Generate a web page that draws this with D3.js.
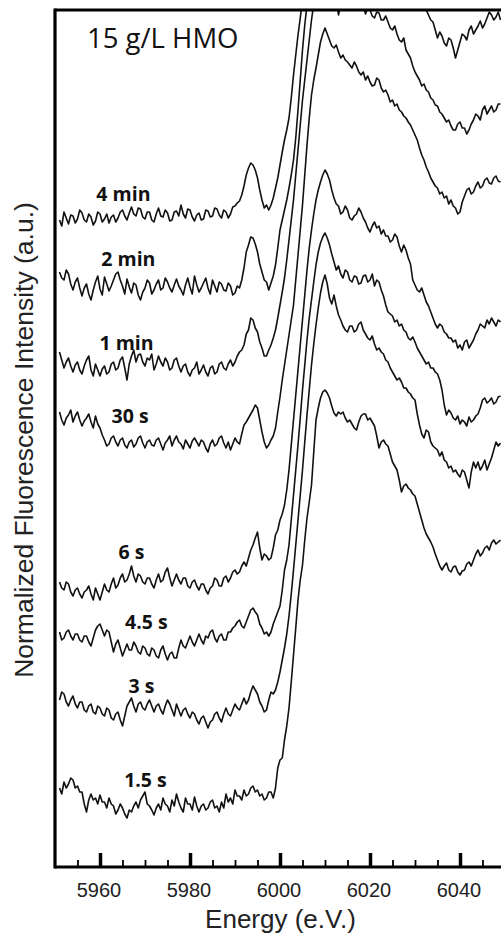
<!DOCTYPE html>
<html>
<head>
<meta charset="utf-8">
<script src="https://cdn.jsdelivr.net/npm/d3@7"></script>
<style>
  html, body { margin: 0; padding: 0; background: #fff; }
  svg { display: block; }
</style>
</head>
<body>
<svg id="chart" width="501" height="941"></svg>
<script>
// ---------------- DATA ----------------
// Energy grid (eV), 0.5 eV steps
const energy = d3.range(5951, 6049.5, 0.5);

const seriesNames = ["4 min", "2 min", "1 min", "30 s", "6 s", "4.5 s", "3 s", "1.5 s"];

// Normalized fluorescence intensity (a.u., stacked with offsets)
const s4min = [
  7.80,7.74,7.88,7.82,7.76,7.85,7.84,7.77,7.81,7.90,7.87,7.80,7.78,7.86,7.83,7.75,7.79,7.88,7.86,7.78,
  7.81,7.86,7.77,7.83,7.85,7.78,7.82,7.88,7.90,7.84,7.80,7.87,7.93,7.86,7.84,7.92,7.91,7.83,7.81,7.88,
  7.88,7.80,7.78,7.86,7.92,7.84,7.83,7.90,7.87,7.79,7.80,7.88,7.89,7.84,7.95,7.86,7.82,7.91,7.90,7.83,
  7.79,7.85,7.87,7.80,7.81,7.90,7.89,7.83,7.84,7.92,7.91,7.85,7.82,7.90,7.88,7.82,7.86,7.93,7.94,7.97,
  7.99,8.05,8.14,8.25,8.32,8.37,8.35,8.30,8.22,8.10,8.00,7.92,7.95,7.90,7.95,8.02,8.12,8.22,8.35,8.48,
  8.60,8.70,8.82,9.02,9.25,9.45,9.65,9.82,10.00,10.20,10.40,10.60,10.80,10.95,11.10,11.20,11.30,11.36,11.40,11.38,
  11.35,11.30,11.25,11.22,11.20,11.19,11.18,11.15,11.12,11.11,11.10,11.08,11.05,11.02,11.00,10.99,10.98,10.96,10.95,10.93,
  10.92,10.91,10.90,10.89,10.88,10.86,10.85,10.83,10.82,10.81,10.80,10.78,10.75,10.72,10.70,10.68,10.65,10.62,10.60,10.58,
  10.55,10.52,10.50,10.48,10.45,10.42,10.40,10.38,10.35,10.32,10.30,10.27,10.25,10.24,10.22,10.20,10.18,10.16,10.20,10.24,
  10.28,10.31,10.35,10.33,10.32,10.36,10.40,10.39,10.38,10.42,10.45,10.48,10.50,10.49,10.48,10.50,10.52
];
const s2min = [
  7.28,7.22,7.20,7.30,7.26,7.16,7.10,7.18,7.22,7.12,7.04,7.12,7.16,7.06,7.00,7.10,7.18,7.24,7.11,7.05,
  7.23,7.16,7.09,7.14,7.20,7.26,7.28,7.20,7.14,7.06,7.21,7.13,7.07,7.17,7.15,7.05,7.00,7.08,7.12,7.20,
  7.17,7.06,7.10,7.16,7.20,7.10,7.12,7.22,7.18,7.12,7.08,7.15,7.21,7.14,7.10,7.05,7.15,7.22,7.13,7.06,
  7.24,7.15,7.08,7.12,7.17,7.22,7.12,7.06,7.20,7.14,7.08,7.18,7.16,7.10,7.09,7.17,7.14,7.05,7.07,7.14,
  7.12,7.20,7.32,7.48,7.55,7.63,7.62,7.56,7.48,7.36,7.28,7.20,7.18,7.10,7.17,7.24,7.35,7.52,7.70,7.80,
  7.90,8.00,8.12,8.25,8.40,8.62,8.90,9.20,9.50,9.75,9.95,10.15,10.30,10.45,10.55,10.64,10.70,10.74,10.75,10.73,
  10.70,10.66,10.60,10.58,10.55,10.52,10.50,10.49,10.48,10.46,10.45,10.43,10.42,10.41,10.40,10.39,10.38,10.36,10.35,10.33,
  10.32,10.31,10.30,10.29,10.28,10.26,10.25,10.23,10.22,10.21,10.20,10.18,10.15,10.12,10.10,10.08,10.05,10.02,10.00,9.99,
  9.98,9.97,9.95,9.90,9.85,9.80,9.78,9.70,9.62,9.68,9.64,9.57,9.54,9.62,9.60,9.52,9.42,9.50,9.58,9.66,
  9.64,9.60,9.70,9.74,9.66,9.70,9.74,9.79,9.72,9.76,9.82,9.88,9.85,9.80,9.83,9.88,9.80
];
const s1min = [
  6.48,6.40,6.32,6.38,6.42,6.34,6.28,6.35,6.38,6.30,6.26,6.34,6.40,6.44,6.30,6.24,6.36,6.30,6.24,6.31,
  6.34,6.26,6.28,6.36,6.38,6.30,6.32,6.40,6.43,6.32,6.20,6.36,6.44,6.50,6.38,6.45,6.46,6.38,6.34,6.42,
  6.40,6.46,6.30,6.36,6.44,6.38,6.34,6.42,6.38,6.30,6.32,6.40,6.42,6.34,6.28,6.34,6.36,6.28,6.24,6.30,
  6.32,6.38,6.26,6.30,6.35,6.28,6.24,6.32,6.34,6.26,6.28,6.36,6.38,6.32,6.30,6.36,6.40,6.34,6.38,6.44,
  6.48,6.50,6.55,6.66,6.70,6.82,6.80,6.72,6.68,6.58,6.52,6.44,6.44,6.50,6.55,6.62,6.70,6.82,6.95,7.08,
  7.22,7.40,7.60,7.80,8.00,8.25,8.50,8.75,9.00,9.20,9.40,9.60,9.80,9.96,10.10,10.24,10.35,10.42,10.47,10.45,
  10.40,10.30,10.20,10.00,9.85,9.96,10.02,10.06,10.08,10.05,10.10,10.03,10.05,9.98,9.92,9.95,9.86,9.92,9.90,9.84,
  9.82,9.88,9.87,9.80,9.80,9.84,9.78,9.72,9.70,9.74,9.66,9.60,9.58,9.62,9.50,9.46,9.42,9.34,9.28,9.24,
  9.20,9.14,9.16,9.10,9.08,9.02,9.00,8.95,8.94,8.88,8.86,8.82,8.78,8.80,8.74,8.70,8.70,8.76,8.78,8.72,
  8.72,8.66,8.70,8.76,8.80,8.86,8.84,8.80,8.90,8.94,8.86,8.90,8.94,8.88,8.90,8.96,8.96
];
const s30s = [
  5.88,5.80,5.75,5.82,5.85,5.90,5.78,5.84,5.88,5.80,5.74,5.79,5.82,5.86,5.78,5.72,5.84,5.76,5.72,5.65,
  5.60,5.54,5.56,5.62,5.64,5.58,5.54,5.60,5.62,5.55,5.52,5.58,5.60,5.53,5.56,5.62,5.64,5.57,5.52,5.58,
  5.60,5.55,5.54,5.60,5.62,5.56,5.50,5.57,5.60,5.64,5.54,5.60,5.64,5.58,5.56,5.51,5.60,5.56,5.52,5.59,
  5.62,5.58,5.54,5.60,5.58,5.52,5.48,5.56,5.60,5.54,5.56,5.62,5.64,5.57,5.52,5.58,5.50,5.56,5.62,5.58,
  5.56,5.66,5.75,5.78,5.82,5.86,5.90,5.95,5.92,5.80,5.68,5.58,5.52,5.55,5.60,5.64,5.72,5.88,6.03,6.20,
  6.35,6.50,6.65,6.80,6.95,7.20,7.45,7.70,7.95,8.25,8.55,8.82,9.05,9.20,9.32,9.45,9.58,9.66,9.72,9.66,
  9.60,9.54,9.52,9.55,9.48,9.42,9.45,9.40,9.38,9.35,9.32,9.38,9.34,9.28,9.25,9.28,9.20,9.24,9.18,9.14,
  9.15,9.22,9.20,9.12,9.08,9.10,9.05,8.98,9.00,8.94,8.96,8.90,8.88,8.84,8.82,8.78,8.75,8.70,8.65,8.60,
  8.52,8.45,8.40,8.33,8.28,8.22,8.18,8.14,8.12,8.06,8.08,8.02,8.04,7.96,8.00,7.94,7.92,7.86,7.88,7.98,
  8.04,8.10,8.12,8.06,8.08,8.14,8.18,8.12,8.14,8.20,8.22,8.17,8.16,8.22,8.24,8.19,8.18
];
const s6s = [
  4.18,4.12,4.10,4.18,4.16,4.08,4.04,4.10,4.12,4.06,4.02,4.08,4.10,4.14,4.06,4.00,4.12,4.06,4.00,4.08,
  4.16,4.10,4.08,4.16,4.22,4.12,4.15,4.22,4.26,4.18,4.20,4.26,4.34,4.24,4.18,4.26,4.24,4.18,4.16,4.22,
  4.22,4.16,4.12,4.20,4.26,4.18,4.20,4.28,4.32,4.22,4.14,4.20,4.26,4.20,4.16,4.22,4.22,4.14,4.12,4.18,
  4.20,4.14,4.10,4.16,4.16,4.10,4.06,4.12,4.14,4.22,4.20,4.14,4.14,4.22,4.24,4.18,4.22,4.28,4.30,4.26,
  4.28,4.34,4.38,4.34,4.42,4.50,4.55,4.62,4.68,4.52,4.40,4.46,4.44,4.40,4.42,4.52,4.65,4.70,4.80,4.86,
  4.95,5.10,5.30,5.55,5.80,6.05,6.30,6.55,6.80,7.05,7.30,7.52,7.70,7.86,8.00,8.10,8.18,8.25,8.30,8.26,
  8.20,8.10,8.02,7.96,7.94,7.86,7.88,7.94,7.90,7.82,7.80,7.84,7.86,7.92,7.88,7.82,7.78,7.72,7.68,7.74,
  7.78,7.72,7.74,7.66,7.70,7.64,7.64,7.58,7.60,7.66,7.63,7.54,7.48,7.55,7.50,7.42,7.36,7.20,7.15,7.10,
  7.08,7.12,7.05,6.98,6.94,6.88,6.82,6.76,6.72,6.76,6.74,6.68,6.66,6.62,6.62,6.58,6.60,6.52,6.55,6.50,
  6.58,6.60,6.52,6.56,6.60,6.66,6.70,6.76,6.74,6.72,6.80,6.76,6.82,6.78,6.74,6.80,6.78
];
const s45s = [
  3.68,3.60,3.62,3.68,3.70,3.64,3.60,3.66,3.66,3.60,3.58,3.64,3.64,3.58,3.54,3.62,3.70,3.74,3.76,3.70,
  3.64,3.70,3.68,3.58,3.48,3.56,3.60,3.52,3.44,3.50,3.56,3.50,3.50,3.58,3.54,3.48,3.46,3.54,3.52,3.46,
  3.44,3.52,3.50,3.44,3.42,3.50,3.54,3.46,3.40,3.46,3.48,3.42,3.42,3.52,3.60,3.54,3.52,3.58,3.64,3.58,
  3.54,3.60,3.66,3.60,3.56,3.64,3.62,3.68,3.70,3.62,3.58,3.64,3.66,3.60,3.60,3.68,3.68,3.72,3.74,3.78,
  3.80,3.74,3.72,3.78,3.84,3.90,3.92,3.88,3.85,3.76,3.72,3.66,3.68,3.64,3.68,3.76,3.82,3.88,3.94,4.10,
  4.30,4.40,4.55,4.80,5.05,5.30,5.55,5.82,6.10,6.35,6.60,6.82,7.00,7.18,7.35,7.48,7.57,7.63,7.67,7.62,
  7.55,7.46,7.38,7.30,7.34,7.26,7.22,7.30,7.28,7.20,7.18,7.24,7.23,7.16,7.17,7.24,7.25,7.18,7.20,7.26,
  7.14,7.20,7.18,7.10,7.04,6.95,6.88,6.86,6.84,6.78,6.80,6.74,6.76,6.70,6.68,6.62,6.60,6.63,6.58,6.52,
  6.48,6.44,6.40,6.36,6.38,6.32,6.32,6.28,6.26,6.20,6.10,5.95,5.85,5.90,5.87,5.82,5.80,5.84,5.76,5.80,
  5.78,5.74,5.83,5.78,5.80,5.84,5.86,5.92,6.00,6.02,5.97,5.99,6.02,5.96,5.98,6.03,6.04
];
const s3s = [
  3.00,3.08,3.06,2.98,2.94,3.00,3.04,2.96,2.92,2.98,2.98,2.90,2.88,2.94,2.96,2.88,2.86,2.94,2.92,2.86,
  2.84,2.92,2.90,2.82,2.80,2.86,2.88,2.80,2.74,2.84,2.94,2.98,3.02,2.94,2.88,2.96,2.98,2.92,2.90,2.96,
  3.00,2.94,2.88,2.94,2.96,2.90,2.86,2.94,3.00,2.96,2.90,2.84,2.96,2.90,2.84,2.90,2.92,2.86,2.82,2.88,
  2.86,2.80,2.76,2.82,2.84,2.78,2.72,2.78,2.80,2.86,2.88,2.82,2.78,2.86,2.92,2.86,2.84,2.90,2.96,2.92,
  2.90,2.96,3.02,2.96,3.00,3.08,3.14,3.10,3.06,2.98,2.94,2.88,2.90,3.00,3.08,3.06,3.10,3.18,3.28,3.40,
  3.52,3.66,3.84,4.06,4.30,4.55,4.80,5.05,5.30,5.58,5.85,6.10,6.35,6.56,6.75,6.92,7.07,7.18,7.25,7.16,
  7.02,6.96,7.05,6.94,6.85,6.80,6.74,6.70,6.68,6.74,6.74,6.68,6.70,6.76,6.78,6.70,6.66,6.62,6.60,6.64,
  6.56,6.50,6.52,6.48,6.46,6.40,6.38,6.32,6.28,6.24,6.20,6.22,6.18,6.12,6.12,6.08,6.06,6.02,6.00,5.86,
  5.75,5.66,5.62,5.70,5.68,5.58,5.54,5.52,5.50,5.44,5.48,5.40,5.38,5.32,5.34,5.28,5.30,5.26,5.23,5.30,
  5.28,5.20,5.12,5.28,5.38,5.32,5.38,5.30,5.34,5.40,5.30,5.36,5.42,5.50,5.58,5.54,5.57
];
const s15s = [
  2.12,2.06,2.18,2.12,2.16,2.22,2.20,2.12,2.14,2.08,2.08,1.96,1.88,2.00,2.06,2.00,2.02,1.96,2.05,1.98,
  1.98,1.92,2.02,1.96,1.94,1.86,1.90,1.96,1.92,1.86,1.82,1.90,1.88,1.94,1.98,1.92,2.00,2.04,2.08,1.96,
  1.94,1.90,1.85,1.92,1.96,1.90,2.02,1.96,1.94,1.88,2.00,1.94,2.06,1.98,1.92,1.88,2.02,1.96,1.96,1.90,
  2.03,1.94,1.88,1.94,1.96,1.90,1.92,1.98,2.00,1.92,1.94,1.88,1.98,1.92,2.06,1.98,2.02,1.96,2.10,2.04,
  2.04,2.00,2.10,2.04,2.06,2.12,2.14,2.08,2.10,2.04,2.06,2.00,2.02,2.08,2.08,2.02,2.12,2.32,2.40,2.42,
  2.60,2.74,2.92,3.18,3.45,3.72,4.00,4.20,4.35,4.60,4.82,4.98,5.15,5.48,5.80,5.92,6.02,6.08,6.10,6.07,
  6.02,5.94,5.87,5.84,5.88,5.86,5.88,5.82,5.78,5.80,5.76,5.72,5.70,5.78,5.84,5.86,5.86,5.80,5.82,5.78,
  5.74,5.64,5.52,5.58,5.60,5.56,5.54,5.46,5.38,5.34,5.30,5.20,5.08,5.14,5.16,5.12,5.10,5.06,5.04,4.96,
  4.88,4.80,4.72,4.66,4.62,4.58,4.53,4.46,4.40,4.34,4.30,4.34,4.37,4.30,4.28,4.33,4.34,4.28,4.25,4.29,
  4.30,4.36,4.38,4.34,4.40,4.46,4.50,4.44,4.47,4.52,4.54,4.50,4.57,4.60,4.56,4.58,4.60
];
const seriesValues = [s4min, s2min, s1min, s30s, s6s, s45s, s3s, s15s];

// Label anchors (energy, intensity) for the trace names
const labelEnergy = [5965.2, 5966.3, 5965.9, 5966.7, 5967.0, 5970.3, 5969.2, 5970.1];
const labelValue  = [7.99, 7.34, 6.50, 5.77, 4.41, 3.71, 3.07, 2.13];

const majorTicks = [5960, 5980, 6000, 6020, 6040];
const minorTicks = [5955, 5965, 5970, 5975, 5985, 5990, 5995, 6005, 6010, 6015, 6025, 6030, 6035, 6045];

const titleText = "15 g/L HMO";
const xLabel = "Energy (e.V.)";
const yLabel = "Normalized Fluorescence Intensity (a.u.)";

// ---------------- CHART ----------------
const svg = d3.select("#chart");
const mLeft = 55, mRight = 505, mTop = 10, mBottom = 867;

const x = d3.scaleLinear().domain([5950, 6050]).range([mLeft, mRight]);
const y = d3.scaleLinear().domain([1.33, 9.90]).range([mBottom, mTop]);

svg.append("rect").attr("width", 501).attr("height", 941).attr("fill", "#fff");

svg.append("defs").append("clipPath").attr("id", "plotclip")
  .append("rect").attr("x", mLeft).attr("y", mTop).attr("width", mRight - mLeft).attr("height", mBottom - mTop);

const line = d3.line()
  .defined((d, i) => i < energy.length)
  .x((d, i) => x(energy[i]))
  .y(d => y(d));

const traces = svg.append("g").attr("clip-path", "url(#plotclip)");
seriesValues.forEach(vals => {
  traces.append("path")
    .datum(vals)
    .attr("d", line)
    .attr("fill", "none")
    .attr("stroke", "#111")
    .attr("stroke-width", 1.6)
    .attr("stroke-linejoin", "round");
});

// trace labels
svg.append("g").selectAll("text")
  .data(seriesNames)
  .join("text")
  .attr("x", (d, i) => x(labelEnergy[i]))
  .attr("y", (d, i) => y(labelValue[i]))
  .attr("text-anchor", "middle")
  .attr("font-family", "'Open Sans', sans-serif")
  .attr("font-weight", "bold")
  .attr("font-size", 19.5)
  .attr("fill", "#111")
  .text(d => d);

// title
svg.append("text")
  .attr("x", 87).attr("y", 48)
  .attr("font-family", "'Open Sans', sans-serif")
  .attr("font-size", 27.5)
  .attr("fill", "#111")
  .text(titleText);

// axes: minor ticks
const minorAxis = d3.axisBottom(x).tickValues(minorTicks).tickSize(-7).tickFormat("");
const gMinor = svg.append("g").attr("transform", `translate(0,${mBottom})`).call(minorAxis);
gMinor.select(".domain").remove();
gMinor.selectAll(".tick line").attr("stroke", "#000").attr("stroke-width", 1.8);

// major ticks + labels
const majorAxis = d3.axisBottom(x).tickValues(majorTicks).tickSize(-14).tickPadding(16).tickFormat(d3.format("d"));
const gMajor = svg.append("g").attr("transform", `translate(0,${mBottom})`).call(majorAxis);
gMajor.select(".domain").remove();
gMajor.selectAll(".tick line").attr("stroke", "#000").attr("stroke-width", 3.5);
gMajor.selectAll(".tick text")
  .attr("font-family", "'Liberation Sans', Arial, sans-serif")
  .attr("font-size", 20)
  .attr("fill", "#222")
  .attr("dx", -1.5);

// frame (left, top, bottom spines)
const frame = svg.append("g").attr("stroke", "#000").attr("stroke-width", 3.2).attr("fill", "none");
frame.append("line").attr("x1", mLeft).attr("x2", mLeft).attr("y1", mTop - 1.6).attr("y2", mBottom + 1.6);
frame.append("line").attr("x1", mLeft).attr("x2", 501).attr("y1", mTop).attr("y2", mTop);
frame.append("line").attr("x1", mLeft).attr("x2", 501).attr("y1", mBottom).attr("y2", mBottom);

// axis titles
svg.append("text")
  .attr("x", 280.5).attr("y", 928)
  .attr("text-anchor", "middle")
  .attr("font-family", "'Liberation Sans', Arial, sans-serif")
  .attr("font-size", 26)
  .attr("fill", "#222")
  .text(xLabel);

svg.append("text")
  .attr("transform", "translate(33,440) rotate(-90)")
  .attr("text-anchor", "middle")
  .attr("font-family", "'Liberation Sans', Arial, sans-serif")
  .attr("font-size", 26.5)
  .attr("fill", "#222")
  .text(yLabel);
</script>
</body>
</html>
